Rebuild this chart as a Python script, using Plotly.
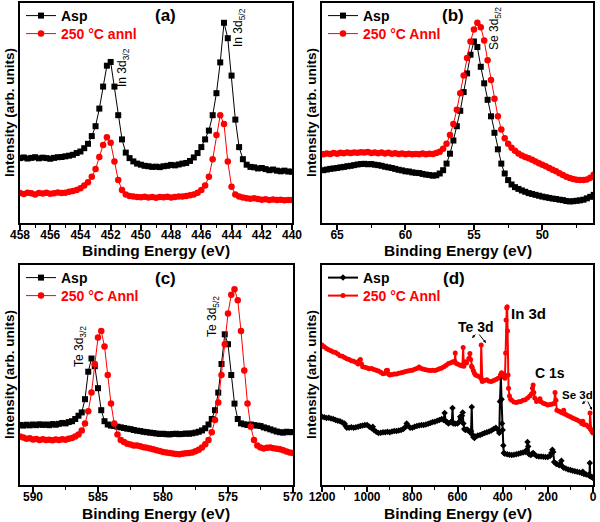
import plotly.graph_objects as go

W, H = 600, 522

# ---------------- data ----------------
# (a) In 3d, energies from 458 eV down in 0.25 eV steps
a_start, a_step = 458.0, 0.25
a_asp = [29.5, 29.8, 29.3, 29.6, 29.9, 29.4, 29.7, 29.5, 29.2, 29.6,
         29.9, 30.0, 30.3, 30.6, 31.0, 31.8, 32.5, 34.0, 36.0, 39.5,
         44.0, 52.0, 62.0, 71.5, 73.2, 62.0, 49.0, 38.0, 32.0, 29.5,
         28.0, 27.0, 26.5, 26.0, 25.8, 25.5, 25.6, 25.4, 25.8, 26.0,
         26.4, 26.2, 26.6, 27.0, 27.3, 28.2, 29.8, 31.8, 34.5, 38.0,
         42.0, 49.0, 59.0, 73.0, 91.0, 84.0, 67.0, 47.0, 34.5, 29.0,
         26.5, 25.5, 25.3, 24.8, 25.0, 24.5, 24.0, 24.3, 23.8, 23.5,
         23.8, 23.4, 23.3]
a_annl = [13.6, 13.2, 13.8, 13.5, 13.0, 13.6, 13.4, 13.7, 13.3, 13.5,
          13.9, 13.6, 13.8, 14.2, 14.5, 15.0, 15.8, 17.0, 18.5, 21.0,
          24.5, 30.0, 35.5, 39.0, 36.5, 28.0, 19.5, 15.0, 13.0, 12.3,
          12.0, 11.8, 11.7, 11.9, 11.6, 11.8, 11.5, 11.8, 11.7, 11.9,
          11.6, 11.8, 12.0, 12.1, 12.3, 12.6, 13.0, 13.8, 15.0, 17.0,
          21.0, 29.0, 40.0, 49.0, 45.0, 28.0, 16.5, 13.0, 12.0, 11.6,
          11.3, 11.0, 11.2, 10.9, 10.6, 10.8, 10.5, 10.7, 10.4, 10.6,
          10.3, 10.5, 10.4]

# (b) Se 3d, energies from 66 eV down in 0.25 eV steps
b_start, b_step = 66.0, 0.25
b_asp = [24.0, 24.3, 24.6, 24.8, 25.0, 25.3, 25.5, 25.8, 26.0, 26.3,
         26.6, 26.8, 26.9, 26.7, 26.8, 26.5, 26.3, 26.0, 25.6, 25.3,
         25.0, 24.6, 24.2, 23.9, 23.5, 23.4, 23.0, 22.8, 22.7, 22.3,
         22.0, 21.8, 21.5, 21.7, 22.5, 24.0, 27.0, 31.5, 37.5, 44.0,
         51.0, 59.5, 68.0, 76.5, 82.5, 80.0, 71.0, 63.5, 56.0, 48.5,
         41.0, 33.5, 27.0, 22.5, 19.5, 17.5, 16.3, 15.5, 14.8, 14.2,
         13.6, 13.2, 12.8, 12.4, 12.0, 11.7, 11.4, 11.1, 10.9, 10.6,
         10.4, 10.0, 9.8, 9.9, 10.1, 10.3, 10.6, 11.2, 11.9, 12.8]
b_annl = [31.3, 31.6, 31.4, 31.8, 31.5, 31.9, 31.7, 32.0, 31.8, 32.1,
          31.9, 32.2, 32.0, 32.3, 31.8, 32.0, 31.7, 32.0, 31.6, 31.9,
          31.5, 31.7, 31.4, 31.6, 31.3, 31.5, 31.2, 31.4, 31.3, 31.6,
          31.2, 31.5, 31.4, 31.8, 32.4, 33.8, 36.0, 40.0, 45.0, 51.5,
          59.0, 67.0, 75.0, 82.5, 88.0, 91.0, 89.0, 83.0, 74.0, 65.0,
          56.5, 48.5, 42.5, 38.5, 36.0, 34.2, 32.8, 31.6, 30.7, 30.0,
          29.4, 28.7, 28.0, 27.2, 26.5, 25.8, 25.0, 24.2, 23.5, 22.6,
          21.8, 21.0, 20.5, 20.0, 19.7, 19.5, 19.5, 19.8, 20.6, 22.0]

# (c) Te 3d, energies from 591 eV down in 0.25 eV steps
c_start, c_step = 591.0, 0.25
c_asp = [27.3, 27.0, 27.4, 27.1, 27.5, 27.2, 27.6, 27.3, 27.5, 27.2,
         27.7, 27.4, 27.8, 28.2, 28.0, 28.6, 29.0, 30.0, 31.5, 33.0,
         39.0, 51.5, 57.5, 54.0, 44.0, 34.0, 29.0, 27.5, 27.0, 26.8,
         26.5, 26.2, 25.9, 25.6, 25.4, 25.0, 24.7, 24.5, 24.2, 24.0,
         23.8, 23.6, 23.4, 23.2, 23.3, 23.1, 23.0, 23.2, 23.3, 23.1,
         23.2, 23.4, 23.3, 23.5, 23.8, 24.2, 24.8, 25.8, 27.5, 30.0,
         34.0, 42.0, 55.0, 68.5, 64.0, 50.0, 37.0, 30.0, 28.0, 27.6,
         27.3, 27.5, 27.2, 27.0, 26.8, 26.2, 25.8, 25.3, 24.8, 24.3,
         24.0, 23.8, 24.2, 24.0, 24.1]
c_annl = [22.0, 21.6, 21.0, 21.3, 20.7, 20.9, 20.5, 20.8, 20.4, 20.6,
          20.3, 20.7, 20.5, 20.8, 20.6, 21.0, 21.4, 22.0, 23.0, 24.8,
          28.0, 33.5, 42.0, 55.0, 67.0, 70.0, 63.0, 50.0, 37.0, 28.0,
          23.0, 20.5, 19.5, 18.8, 18.4, 18.0, 17.9, 17.6, 17.2, 16.9,
          16.6, 16.2, 15.8, 15.4, 15.0, 14.8, 14.5, 14.3, 14.1, 14.0,
          14.2, 14.4, 14.5, 14.8, 15.3, 16.0, 17.0, 18.5, 20.5, 24.0,
          29.5, 37.5, 50.0, 64.0, 78.0, 86.5, 89.0, 84.0, 70.0, 52.0,
          37.0, 26.5, 20.5, 18.0, 17.0, 16.6, 16.9, 17.0, 16.7, 16.5,
          16.3, 15.8, 15.2, 14.8, 14.5]

# (d) survey
d_asp_e = [1200, 1190, 1180, 1170, 1160, 1150, 1140, 1130, 1120, 1110, 1100, 1095, 1090,
           1080, 1070, 1060, 1050, 1040, 1030, 1020, 1010, 1000, 990, 980, 975, 970, 960,
           950, 940, 930, 920, 910, 900, 890, 880, 870, 860, 850, 840, 830, 825, 820, 810,
           800, 790, 780, 770, 760, 750, 740, 730, 720, 710, 700, 690, 680, 670, 662, 657,
           652, 645, 640, 630, 625, 622, 619, 610, 600, 592, 588, 585, 580, 577, 574, 570,
           565, 558, 552, 545, 540, 537, 534, 530, 525, 520, 510, 500, 490, 480, 470, 460,
           450, 440, 430, 420, 415, 412, 408, 405, 403, 400, 397, 395, 390, 380, 370, 360,
           350, 340, 330, 320, 310, 300, 293, 290, 287, 283, 275, 270, 265, 260, 250, 240,
           230, 220, 210, 200, 190, 185, 180, 176, 172, 165, 160, 150, 145, 140, 136, 130,
           120, 110, 100, 90, 80, 70, 60, 50, 45, 40, 30, 20, 16, 14, 12, 8, 4, 0]
d_asp = [31.0, 30.8, 30.5, 30.6, 30.2, 30.0, 29.6, 29.2, 29.0, 28.4, 28.0, 26.8, 26.0,
         26.0, 26.2, 26.0, 26.3, 26.5, 26.8, 27.0, 27.3, 27.3, 26.5, 25.8, 26.5, 25.0, 24.2,
         23.6, 23.8, 24.0, 24.0, 24.2, 24.0, 24.3, 24.5, 24.6, 24.8, 25.0, 25.5, 26.5, 28.0, 27.0, 26.0,
         26.0, 26.5, 26.8, 27.0, 27.3, 27.3, 27.5, 27.8, 28.2, 28.6, 28.8, 29.2, 29.6, 30.0, 29.5, 32.7,
         29.0, 28.5, 28.0, 28.5, 29.0, 35.0, 28.0, 27.8, 28.0, 28.8, 31.0, 30.0, 31.5, 33.0, 28.0, 25.5,
         25.0, 25.2, 24.8, 24.0, 24.5, 35.5, 23.0, 21.8, 21.4, 22.0, 22.5, 22.7, 23.2, 23.6, 24.0, 24.3,
         24.8, 25.5, 26.0, 25.0, 23.6, 38.0, 49.0, 39.0, 28.0, 25.0, 18.0, 14.5, 14.2, 14.0, 13.8, 13.6,
         13.7, 14.0, 14.2, 14.5, 14.8, 15.0, 16.0, 19.5, 17.5, 14.0, 13.6, 14.2, 14.6, 14.0, 13.2, 13.0,
         12.9, 12.8, 12.7, 12.7, 13.2, 14.5, 16.0, 15.0, 10.5, 9.8, 9.5, 9.0, 9.5, 11.0, 8.5, 7.8,
         7.5, 7.0, 6.8, 6.5, 6.3, 6.0, 5.8, 5.4, 6.0, 5.0, 4.8, 4.5, 4.2, 10.0, 4.0, 3.8, 3.6, 3.2]

d_annl_e = [1200, 1190, 1180, 1170, 1160, 1150, 1140, 1130, 1120, 1110, 1100, 1090, 1080,
            1070, 1060, 1050, 1040, 1035, 1030, 1025, 1020, 1010, 1000, 990, 980, 970, 960,
            950, 940, 930, 920, 915, 910, 905, 900, 890, 880, 870, 860, 850, 840, 830, 820,
            810, 800, 790, 780, 770, 760, 750, 740, 730, 720, 710, 700, 690, 680, 670, 660,
            650, 640, 630, 620, 612, 610, 608, 600, 590, 582, 578, 575, 572, 565, 560, 550,
            545, 542, 538, 535, 530, 525, 520, 510, 500, 497, 495, 493, 490, 480, 470, 460,
            450, 440, 430, 420, 410, 405, 400, 395, 390, 387, 385, 382, 380, 378, 376, 374,
            370, 365, 360, 350, 340, 330, 320, 310, 300, 290, 280, 272, 268, 265, 262, 258,
            250, 240, 235, 230, 220, 210, 200, 190, 180, 172, 168, 164, 160, 150, 140, 133,
            130, 127, 120, 110, 100, 90, 80, 70, 60, 50, 45, 40, 30, 20, 15, 13, 11, 8, 4, 0]
d_annl = [63.6, 62.8, 62.0, 61.5, 61.0, 60.5, 60.2, 59.5, 58.8, 58.5, 58.0, 57.4, 57.0,
          56.5, 56.2, 55.8, 55.0, 56.5, 57.0, 55.0, 53.8, 53.5, 53.2, 52.8, 53.0, 52.5, 52.2,
          51.8, 51.2, 50.6, 50.8, 52.0, 52.2, 50.5, 50.0, 50.2, 50.4, 50.5, 50.8, 51.0, 51.3, 51.6, 51.8,
          52.0, 52.2, 52.6, 53.0, 53.6, 53.0, 52.6, 52.4, 52.2, 52.0, 52.2, 52.0, 52.4, 52.8, 53.2, 53.8,
          54.4, 55.2, 55.6, 56.0, 56.2, 60.0, 55.5, 55.0, 54.5, 54.2, 54.5, 62.5, 54.0, 56.0, 55.5, 57.5,
          59.8, 57.0, 54.0, 53.5, 52.0, 50.8, 50.0, 49.5, 49.0, 49.0, 63.6, 48.0, 47.0, 47.5, 47.8, 47.2,
          47.0, 47.5, 48.0, 48.5, 50.0, 51.0, 50.5, 49.5, 48.5, 60.0, 75.0, 80.5, 81.0, 70.0, 50.0, 44.0,
          40.5, 39.0, 38.5, 37.7, 37.5, 37.8, 38.0, 38.5, 38.8, 39.5, 40.5, 41.5, 44.0, 45.4, 42.0, 39.5,
          38.0, 38.5, 39.2, 37.8, 37.2, 36.8, 36.4, 36.6, 36.8, 37.0, 42.0, 38.5, 34.0, 33.5, 33.0, 32.7,
          34.0, 32.5, 32.0, 31.5, 31.0, 30.5, 30.0, 29.5, 29.0, 28.0, 29.0, 27.5, 27.3, 26.5, 26.0, 32.7, 25.5, 25.0, 24.2, 23.6]

label_asp = "Asp"
label_annl_a = "250 °C annl"
label_annl = "250 °C Annl"

BLACK = "#000000"
RED = "#ff0000"
FONT = "Liberation Sans, Arial, sans-serif"


def grid(start, step, n):
    return [round(start - step * i, 3) for i in range(n)]


def px(x):
    return x / W


def py(y):
    return 1 - y / H


fig = go.Figure()

# plot boxes in pixels: (left, right, top, bottom)
boxes = [(20, 292, 3, 223), (322, 593, 3, 223), (20, 293, 265, 485), (322, 593, 265, 485)]

panels = [
    (grid(a_start, a_step, len(a_asp)), a_asp, grid(a_start, a_step, len(a_annl)), a_annl, label_annl_a, "square"),
    (grid(b_start, b_step, len(b_asp)), b_asp, grid(b_start, b_step, len(b_annl)), b_annl, label_annl, "square"),
    (grid(c_start, c_step, len(c_asp)), c_asp, grid(c_start, c_step, len(c_annl)), c_annl, label_annl, "square"),
    (d_asp_e, d_asp, d_annl_e, d_annl, label_annl, "diamond"),
]

legend_layout = {}
for idx, (xb, yb, xr, yr, lab_r, sym) in enumerate(panels):
    k = "" if idx == 0 else str(idx + 1)
    survey = idx == 3
    l, r, t, b = boxes[idx]
    lg1 = "legend%d" % (2 * idx + 1) if idx > 0 else "legend"
    lg2 = "legend%d" % (2 * idx + 2)
    fig.add_trace(go.Scatter(
        x=xb, y=yb, mode="lines+markers", name=label_asp,
        xaxis="x" + k, yaxis="y" + k, legend=lg1,
        line=dict(color=BLACK, width=2 if survey else 1),
        marker=dict(symbol=sym, size=5 if survey else 6, color=BLACK)))
    fig.add_trace(go.Scatter(
        x=xr, y=yr, mode="lines+markers", name=lab_r,
        xaxis="x" + k, yaxis="y" + k, legend=lg2,
        line=dict(color=RED, width=2 if survey else 1),
        marker=dict(symbol="circle", size=5 if survey else 6.5, color=RED)))
    for lg, yc, col in [(lg1, t + 13, BLACK), (lg2, t + 31, RED)]:
        legend_layout[lg] = dict(
            x=px(l + 1), y=py(yc), xanchor="left", yanchor="middle",
            bgcolor="rgba(0,0,0,0)", borderwidth=0, itemwidth=30,
            font=dict(family=FONT, size=14, weight="bold", color=col),
            itemclick=False, itemdoubleclick=False)

xranges = [[458, 440], [66.1, 46.3], [591, 570], [1200, 0]]
dticks = [2, 5, 5, 200]
minor = [1, 2.5, 2.5, 100]
tick0 = [440, 50, 570, 0]

tickfont = dict(family=FONT, size=12, color=BLACK, weight="bold")
layout = {}
for i, (l, r, t, b) in enumerate(boxes):
    k = "" if i == 0 else str(i + 1)
    layout["xaxis" + k] = dict(
        domain=[px(l), px(r)], anchor="y" + k, range=xranges[i], automargin=False,
        showline=True, mirror=True, linecolor=BLACK, linewidth=1.5,
        ticks="outside", ticklen=5, tickwidth=1.5, tickcolor=BLACK,
        dtick=dticks[i], tick0=tick0[i], tickfont=tickfont, ticklabelstandoff=-5,
        minor=dict(dtick=minor[i], tick0=tick0[i], ticks="outside", ticklen=3, tickwidth=1.2, tickcolor=BLACK),
        showgrid=False, zeroline=False)
    layout["yaxis" + k] = dict(
        domain=[py(b), py(t)], anchor="x" + k, range=[0, 100], automargin=False,
        showline=True, mirror=True, linecolor=BLACK, linewidth=1.5,
        showticklabels=False, ticks="", showgrid=False, zeroline=False)

fig.update_layout(
    width=W, height=H, margin=dict(l=0, r=0, t=0, b=0, autoexpand=False),
    paper_bgcolor="white", plot_bgcolor="white", showlegend=True,
    font=dict(family=FONT, color=BLACK), **layout, **legend_layout)

anns = []


def label(txt, x, y, size, bold=True, angle=0):
    anns.append(dict(x=px(x), y=py(y), xref="paper", yref="paper", text=txt, showarrow=False,
                     xanchor="center", yanchor="middle", textangle=angle,
                     font=dict(family=FONT, size=size, weight="bold" if bold else "normal", color=BLACK)))


# axis titles
for i, (l, r, t, b) in enumerate(boxes):
    label("Binding Energy (eV)", (l + r) / 2, b + (27 if i < 2 else 28), 15.5)
    label("Intensity (arb. units)", l - 11, (t + b) / 2, 13.5, angle=-90)

# panel labels
for lab, x, y in [("(a)", 165, 15), ("(b)", 453, 15), ("(c)", 165, 278), ("(d)", 454, 278)]:
    label(lab, x, y, 17)

# peak labels (rotated)
for txt, x, y in [("In 3d<sub>3/2</sub>", 123, 67), ("In 3d<sub>5/2</sub>", 239, 28),
                  ("Se 3d<sub>5/2</sub>", 495, 29), ("Te 3d<sub>3/2</sub>", 80, 347),
                  ("Te 3d<sub>5/2</sub>", 213, 317)]:
    label(txt, x, y, 12, bold=False, angle=-90)

# survey labels
for txt, x, y, s in [("Te 3d", 476, 327, 14), ("In 3d", 528, 313, 15), ("C 1s", 550, 373, 14),
                     ("Se 3d", 577, 395, 11.5)]:
    label(txt, x, y, s)

# little arrows
for hx, hy, tx, ty in [(472, 338, 477, 333), (486, 343, 478, 333), (582, 404, 587, 400), (592, 410, 587, 400)]:
    anns.append(dict(x=px(hx), y=py(hy), xref="paper", yref="paper", text="", showarrow=True,
                     ax=tx - hx, ay=ty - hy, arrowhead=2, arrowsize=0.6, arrowwidth=1, arrowcolor=BLACK))

fig.update_layout(annotations=anns)
fig.write_html("out.html", config={"displayModeBar": False},
               post_script="document.body.style.margin='0';document.body.style.overflow='hidden';")
